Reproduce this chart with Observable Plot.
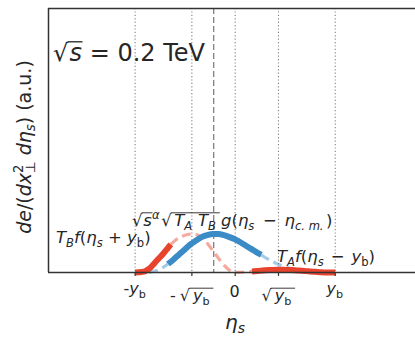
<!DOCTYPE html>
<html><head><meta charset="utf-8">
<script src="https://cdn.jsdelivr.net/npm/d3@7"></script>
<script src="https://cdn.jsdelivr.net/npm/@observablehq/plot@0.6"></script>
<style>body{margin:0;background:#fff;overflow:hidden} svg{display:block}</style>
</head><body><div id="chart"></div>
<script>
// ---- data ----
const etaCM = -1.15;             // centre-of-mass rapidity (dashed line)
const refLines = [-5.36, -2.32, 0, 2.32, 5.36];   // dotted guide lines: -yb, -sqrt(yb), 0, sqrt(yb), yb
const tickValues = [-5.36, -2.32, 0, 2.32, 5.36];

// blue: sqrt(s)^a sqrt(TA TB) g(eta - eta_cm)
const blueEta = [-5.36,-4.6,-4.2,-3.9,-3.6,-3.3,-3.0,-2.7,-2.4,-2.1,-1.8,-1.5,-1.2,-0.9,-0.6,-0.3,0,0.3,0.6,0.9,1.2,1.4,1.5,1.8,2.1,2.4,2.7,3.0,3.3,3.6,4.0,4.5,5.0,5.36];
const blueVal = [0,0.005,0.05,0.12,0.22,0.34,0.47,0.60,0.73,0.83,0.92,0.97,1.0,1.0,0.97,0.92,0.86,0.78,0.69,0.60,0.51,0.46,0.42,0.34,0.26,0.195,0.14,0.10,0.065,0.04,0.02,0.008,0.003,0];
const blueSolid = [-3.6, 1.4];

// red left: TB f(eta + yb)
const redLEta = [-5.36,-5.0,-4.8,-4.6,-4.4,-4.2,-4.0,-3.8,-3.6,-3.45,-3.2,-3.0,-2.8,-2.6,-2.4,-2.2,-2.0,-1.8,-1.6,-1.4,-1.2,-1.0,-0.8,-0.6,-0.4,-0.2,0];
const redLVal = [0,0.015,0.04,0.10,0.2,0.31,0.41,0.52,0.64,0.73,0.84,0.9,0.95,0.98,1.0,1.0,0.97,0.91,0.82,0.70,0.57,0.44,0.31,0.19,0.10,0.03,0];
const redLSolid = [-5.36, -3.45];

// red right: TA f(eta - yb)
const redREta = [0,0.2,0.4,0.6,0.8,0.9,1.0,1.2,1.4,1.6,1.8,2.0,2.2,2.4,2.6,2.8,3.0,3.2,3.45,3.6,3.8,4.0,4.2,4.4,4.6,4.8,5.0,5.36];
const redRVal = [0,0.002,0.007,0.013,0.022,0.026,0.031,0.040,0.049,0.057,0.064,0.068,0.07,0.07,0.069,0.066,0.063,0.059,0.051,0.045,0.036,0.029,0.022,0.014,0.007,0.003,0.001,0];
const redRSolid = [0.9, 5.36];

const xDomain = [-10, 9.66];
const yDomain = [0, 6.86];

const BLUE = "#3a8bc6", RED = "#e8432d", INK = "#262626";

function pts(eta, val) { return eta.map((e, i) => ({x: e, y: val[i]})); }
function inRange(d, r) { return d.filter(p => p.x >= r[0] - 1e-9 && p.x <= r[1] + 1e-9); }
const blue = pts(blueEta, blueVal), redL = pts(redLEta, redLVal), redR = pts(redREta, redRVal);
const blueDashA = blue.filter(p => p.x <= blueSolid[0] + 1e-9);
const blueDashB = blue.filter(p => p.x >= blueSolid[1] - 1e-9);
const redLDash = redL.filter(p => p.x >= redLSolid[1] - 1e-9);
const redRDash = redR.filter(p => p.x <= redRSolid[0] + 1e-9);

const dashOpt = (c) => ({x: "x", y: "y", stroke: c, strokeOpacity: 0.45, strokeWidth: 3.2, strokeDasharray: "9,5", strokeLinecap: "butt", curve: "monotone-x"});
const solidOpt = (c) => ({x: "x", y: "y", stroke: c, strokeWidth: 6, strokeLinecap: "butt", curve: "monotone-x"});

const chart = Plot.plot({
  width: 415, height: 337,
  marginLeft: 48, marginRight: 0, marginTop: 8, marginBottom: 65,
  x: {domain: xDomain, axis: null},
  y: {domain: yDomain, axis: null},
  style: {background: "white", fontFamily: "DejaVu Sans"},
  marks: [
    Plot.ruleX(refLines, {stroke: "#808080", strokeWidth: 1.1, strokeDasharray: "1.2,2.2"}),
    Plot.ruleX([etaCM], {stroke: "#777", strokeWidth: 1.2, strokeDasharray: "6,3"}),
    Plot.line(blueDashA, dashOpt(BLUE)),
    Plot.line(blueDashB, dashOpt(BLUE)),
    Plot.line(redLDash, dashOpt(RED)),
    Plot.line(redRDash, dashOpt(RED)),
    Plot.line(inRange(redL, redLSolid), solidOpt(RED)),
    Plot.line(inRange(blue, blueSolid), solidOpt(BLUE)),
    Plot.line(inRange(redR, redRSolid), solidOpt(RED)),
    Plot.ruleY([0], {stroke: "#333", strokeWidth: 1.5}),
    Plot.ruleY([yDomain[1]], {stroke: "#333", strokeWidth: 1.5}),
    Plot.ruleX([xDomain[0]], {stroke: "#333", strokeWidth: 1.5}),
    Plot.axisX(tickValues, {tickFormat: () => "", tickSize: 4, stroke: "#333", label: null, strokeWidth: 1.2})
  ]
});
document.getElementById("chart").append(chart);
const svg = d3.select(chart);
const X = v => chart.scale("x").apply(v);

// ---- text labels ----
const TS = "\u2009";
const tickLabels = [
  [{t: "-"}, {t: "y", i: 1}, {t: "b", s: "sub"}],
  [{t: "-"}, {t: "√", g: 1, root: 1, dx: 0.25}, {t: "y", i: 1, g: 1, dx: 0.2}, {t: "b", s: "sub", g: 1}, {t: TS, g: 1}],
  [{t: "0"}],
  [{t: "√", g: 1, root: 1}, {t: "y", i: 1, g: 1, dx: 0.2}, {t: "b", s: "sub", g: 1}, {t: TS, g: 1}],
  [{t: "y", i: 1}, {t: "b", s: "sub"}]
];
const tickBaselines = [294, 301, 297, 301, 294];
const titleParts = [{t: "√", g: 1, root: 1}, {t: "s", i: 1, g: 1, dx: 0.05}, {t: " = "}, {t: "0.2 TeV"}];
const annLeft = [{t: "T", i: 1}, {t: "B", i: 1, s: "sub"}, {t: "f", i: 1}, {t: "("}, {t: "η", i: 1}, {t: "s", i: 1, s: "sub"}, {t: " + "}, {t: "y", i: 1}, {t: "b", s: "sub"}, {t: ")"}];
const annMid = [{t: "√", g: 1, root: 1}, {t: "s", i: 1, g: 1, dx: 0.05}, {t: "α", i: 1, s: "sup"}, {t: "√", g: 2, root: 1, dx: 0.1}, {t: "T", i: 1, g: 2, dx: 0.15}, {t: "A", i: 1, s: "sub", g: 2}, {t: "T", i: 1, g: 2, dx: 0.35}, {t: "B", i: 1, s: "sub", g: 2}, {t: TS, g: 2}, {t: "g", i: 1, dx: 0.1}, {t: "("}, {t: "η", i: 1}, {t: "s", i: 1, s: "sub"}, {t: " − ", dx: 0.2}, {t: "η", i: 1, dx: 0.15}, {t: "c. m.", i: 1, s: "sub"}, {t: ")", dx: 0.15}];
const annRight = [{t: "T", i: 1}, {t: "A", i: 1, s: "sub"}, {t: "f", i: 1}, {t: "("}, {t: "η", i: 1}, {t: "s", i: 1, s: "sub"}, {t: " − ", dx: 0.1}, {t: "y", i: 1, dx: 0.1}, {t: "b", s: "sub"}, {t: ")"}];
const yLabel = [{t: "de", i: 1}, {t: "/("}, {t: "dx", i: 1}, {t: "2", s: "sup"}, {t: "⊥", s: "sub", dx: -0.636}, {t: " d", i: 1}, {t: "η", i: 1}, {t: "s", i: 1, s: "sub"}, {t: ")"}, {t: " (a.u.)"}];
const xLabel = [{t: "η", i: 1}, {t: "s", i: 1, s: "sub"}];

function mathText(x, y, size, parts, anchor = "start", rotate = false) {
  const g = svg.append("g").attr("transform", `translate(${x},${y})` + (rotate ? " rotate(-90)" : ""));
  const t = g.append("text").attr("text-anchor", anchor).attr("font-family", "DejaVu Sans")
    .attr("font-size", size).attr("fill", INK);
  let cur = 0, idx = 0;
  const groups = {};
  parts.forEach(p => {
    const fs = p.s ? size * 0.7 : size;
    const target = p.s === "sub" ? size * 0.22 : p.s === "sup" ? -size * 0.42 : 0;
    const ts = t.append("tspan").text(p.t).attr("font-size", fs)
      .attr("font-style", p.i ? "italic" : "normal").attr("dy", target - cur);
    if (p.dx) ts.attr("dx", p.dx * fs);
    cur = target;
    if (p.g) {
      groups[p.g] = groups[p.g] || {root: null, first: Infinity, last: -1, fs: size, base: 0};
      const G = groups[p.g];
      if (p.root) { G.root = idx; G.fs = fs; G.base = target; }
      else { G.first = Math.min(G.first, idx); G.last = Math.max(G.last, idx + p.t.length - 1); }
    }
    idx += p.t.length;
  });
  const node = t.node();
  Object.values(groups).forEach(G => {
    if (G.root == null || G.last < 0) return;
    const r = node.getExtentOfChar(G.root);
    const e = node.getExtentOfChar(G.last);
    const yy = G.base - 0.80 * G.fs;
    g.append("line").attr("x1", r.x + r.width - 0.6).attr("x2", e.x + e.width + 0.5)
      .attr("y1", yy).attr("y2", yy).attr("stroke", INK).attr("stroke-width", Math.max(0.9, G.fs * 0.055));
  });
}

tickValues.forEach((v, i) => mathText(X(v), tickBaselines[i], 16, tickLabels[i], "middle"));
mathText(53, 61, 24, titleParts);
mathText(56, 243, 16.5, annLeft);
mathText(132, 226, 16.5, annMid);
mathText(277, 262, 16.5, annRight);
mathText(235, 329, 20, xLabel, "middle");
mathText(31, 147, 19, yLabel, "middle", true);
</script></body></html>
